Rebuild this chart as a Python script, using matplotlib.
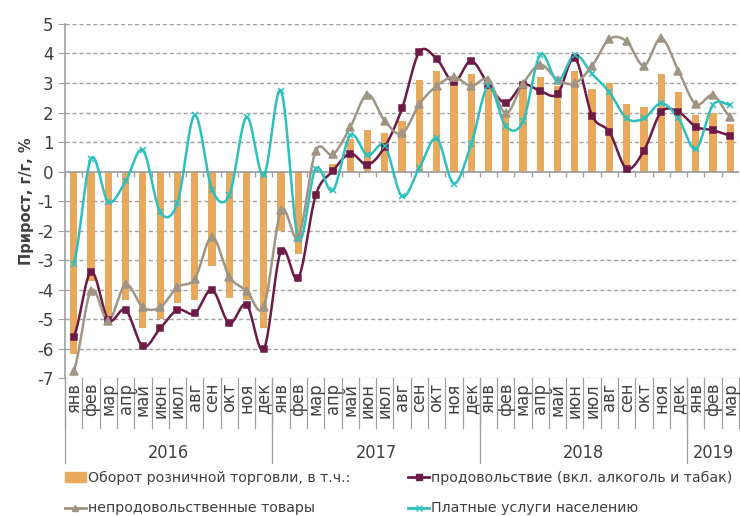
import matplotlib.pyplot as plt
import matplotlib.transforms as mtransforms
import numpy as np

plt.rcParams["axes.unicode_minus"] = False

months = ["янв", "фев", "мар", "апр", "май", "июн", "июл", "авг", "сен", "окт", "ноя", "дек"]
years = ["2016", "2017", "2018", "2019"]
month_labels = months * 3 + months[:3]

retail = [-6.2, -3.7, -5.0, -4.35, -5.3, -5.0, -4.45, -4.35, -3.2, -4.3, -4.35, -5.3,
          -2.0, -2.8, 0.05, 0.25, 1.1, 1.4, 1.3, 1.7, 3.1, 3.4, 3.1, 3.3,
          2.95, 1.95, 2.95, 3.2, 2.9, 3.4, 2.8, 3.0, 2.3, 2.2, 3.3, 2.7,
          1.9, 2.0, 1.6]
food = [-5.6, -3.4, -5.03, -4.69, -5.93, -5.32, -4.69, -4.81, -4.01, -5.14, -4.51, -6.02,
        -2.68, -3.61, -0.81, 0.02, 0.61, 0.23, 0.84, 2.14, 4.05, 3.82, 3.03, 3.75,
        2.94, 2.33, 2.94, 2.73, 2.63, 3.84, 1.89, 1.34, 0.10, 0.71, 2.02, 2.02,
        1.52, 1.40, 1.22]
nonfood = [-6.75, -4.04, -5.06, -3.83, -4.6, -4.6, -3.92, -3.64, -2.22, -3.56, -4.04, -4.58,
           -1.32, -2.22, 0.69, 0.58, 1.50, 2.61, 1.71, 1.29, 2.28, 2.90, 3.20, 2.90,
           3.11, 1.97, 2.98, 3.62, 3.11, 2.99, 3.58, 4.49, 4.41, 3.59, 4.52, 3.41,
           2.28, 2.59, 1.86]
services = [-3.13, 0.44, -1.03, -0.33, 0.72, -1.37, -1.07, 1.91, -0.61, -0.81, 1.84, -0.13,
            2.73, -2.28, 0.10, -0.64, 1.23, 0.55, 0.87, -0.84, 0.12, 1.12, -0.41, 0.92,
            2.90, 1.53, 1.70, 3.96, 3.07, 3.96, 3.31, 2.69, 1.80, 1.80, 2.31, 1.80,
            0.76, 2.26, 2.26]

c_bar = "#E8A95C"
c_food = "#6D1A46"
c_nonfood = "#A09585"
c_serv = "#2EBFBF"
c_text = "#404040"
c_axis = "#A0A0A0"


def smooth(y, n=20):
    # сглаживание как в Excel (кривые Безье по соседним точкам)
    y = np.asarray(y, dtype=float)
    x = np.arange(len(y), dtype=float)
    xs, ys = [], []
    for i in range(len(y) - 1):
        p0 = y[i - 1] if i > 0 else y[i]
        p3 = y[i + 2] if i + 2 < len(y) else y[i + 1]
        b0, b3 = y[i], y[i + 1]
        b1 = b0 + (b3 - p0) / 6
        b2 = b3 - (p3 - b0) / 6
        t = np.linspace(0, 1, n, endpoint=False)
        ys.append((1 - t) ** 3 * b0 + 3 * (1 - t) ** 2 * t * b1 + 3 * (1 - t) * t ** 2 * b2 + t ** 3 * b3)
        xs.append(x[i] + t)
    xs.append([x[-1]])
    ys.append([y[-1]])
    return np.concatenate(xs), np.concatenate(ys)


fig = plt.figure(figsize=(7.4, 5.16), dpi=100)
ax = fig.add_axes([0.088, 0.2674, 0.9106, 0.6861])

x = np.arange(len(retail))

ax.bar(x, retail, width=0.42, color=c_bar, zorder=2)

for vals, col, mk, ms in [(food, c_food, "s", 4.8), (nonfood, c_nonfood, "^", 5.2), (services, c_serv, "x", 5)]:
    sx, sy = smooth(vals)
    ax.plot(sx, sy, color=col, lw=1.8, zorder=3, solid_capstyle="round")
    ax.plot(x, vals, ls="none", marker=mk, ms=ms, color=col, mec=col, mew=1.1, zorder=4)

ax.set_xlim(-0.5, len(retail) - 0.5)
ax.set_ylim(-7, 5)
ax.set_yticks(range(-7, 6))
for v in range(-7, 6):
    if v != 0:
        ax.axhline(v, color=c_axis, lw=1, ls=(0, (3, 2)), zorder=1)
ax.axhline(0, color=c_axis, lw=1.3, zorder=2.5)
ax.vlines(np.arange(len(retail) + 1) - 0.5, 0, -0.2, color=c_axis, lw=1, zorder=2.5)

for s in ["top", "right", "bottom"]:
    ax.spines[s].set_visible(False)
ax.spines["left"].set_color(c_axis)
ax.spines["left"].set_linewidth(1.2)
ax.tick_params(axis="y", colors=c_axis, labelcolor=c_text, labelsize=12, length=5)
ax.set_xticks([])

ax.set_ylabel("Прирост, г/г, %", fontsize=10.5, fontweight="bold", color=c_text, labelpad=2)

# подписи месяцев и лет под графиком
trans = mtransforms.blended_transform_factory(ax.transData, ax.transAxes)
for i, m in enumerate(month_labels):
    ax.text(i, -0.014, m, transform=trans, rotation=90, ha="center", va="top",
            fontsize=13, fontstretch="condensed", color=c_text, clip_on=False)
for b in np.arange(len(retail) + 1) - 0.5:
    ax.plot([b, b], [0, -0.14], transform=trans, color=c_axis, lw=0.9, clip_on=False)
year_starts = [0, 12, 24, 36, 39]
for k, yr in enumerate(years):
    a, b = year_starts[k], year_starts[k + 1]
    ax.plot([a - 0.5, a - 0.5], [0, -0.24], transform=trans, color=c_axis, lw=0.9, clip_on=False)
    ax.text((a + b - 1) / 2, -0.212, yr, transform=trans, ha="center", va="center",
            fontsize=13, fontstretch="condensed", color=c_text, clip_on=False)

h_bar = plt.Rectangle((0, 0), 1, 1, color=c_bar)
h_food, = ax.plot([], [], color=c_food, lw=2, marker="s", ms=4.5)
h_nonfood, = ax.plot([], [], color=c_nonfood, lw=2, marker="^", ms=4.5)
h_serv, = ax.plot([], [], color=c_serv, lw=2, marker="x", ms=4.5)

fig.legend([h_bar, h_nonfood, h_food, h_serv],
           ["Оборот розничной торговли, в т.ч.:", "непродовольственные товары",
            "продовольствие (вкл. алкоголь и табак)", "Платные услуги населению"],
           ncol=2, loc="upper left", bbox_to_anchor=(0.08, 0.098), frameon=False,
           fontsize=10.2, labelcolor=c_text, handlelength=1.5, handletextpad=0.15,
           columnspacing=4.05, labelspacing=1.15, borderaxespad=0)

fig.savefig("out.png", dpi=100)
